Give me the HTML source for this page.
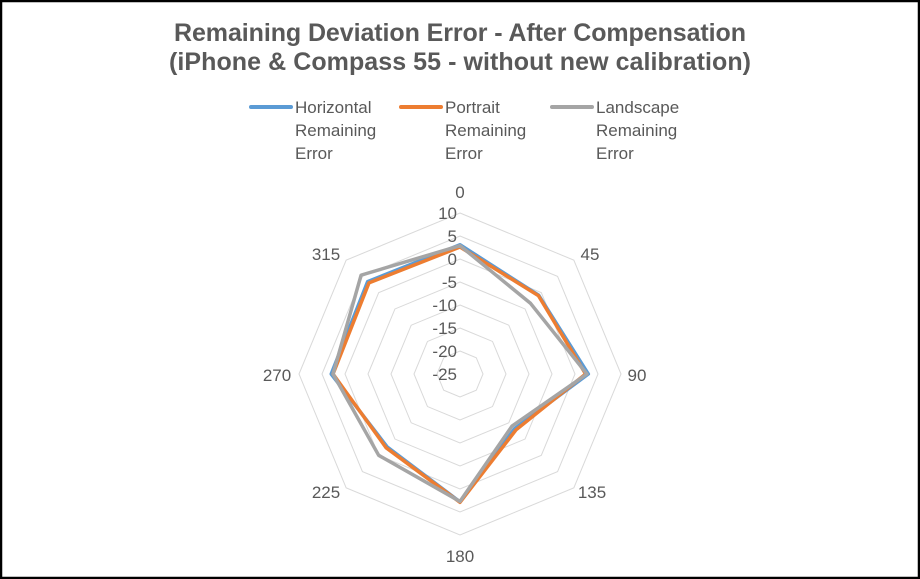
<!DOCTYPE html>
<html><head><style>
html,body{margin:0;padding:0;background:#fff}
svg{display:block}
text{font-family:"Liberation Sans",Arial,sans-serif}
</style></head><body>
<svg id="s" width="920" height="579" viewBox="0 0 920 579" xmlns="http://www.w3.org/2000/svg">
<rect x="1" y="1" width="918" height="577" fill="#fff" stroke="#000" stroke-width="2.5"/>
<text x="460" y="41" text-anchor="middle" font-size="25" font-weight="bold" fill="#595959" textLength="572">Remaining Deviation Error - After Compensation</text>
<text x="460" y="70" text-anchor="middle" font-size="25" font-weight="bold" fill="#595959" textLength="582">(iPhone &amp; Compass 55 - without new calibration)</text>
<g font-size="17" fill="#595959">
<line x1="251" y1="107" x2="291" y2="107" stroke="#5b9bd5" stroke-width="4" stroke-linecap="round"/>
<text x="295" y="113">Horizontal</text><text x="295" y="136">Remaining</text><text x="295" y="159">Error</text>
<line x1="401" y1="107" x2="441" y2="107" stroke="#ed7d31" stroke-width="4" stroke-linecap="round"/>
<text x="445" y="113">Portrait</text><text x="445" y="136">Remaining</text><text x="445" y="159">Error</text>
<line x1="552" y1="107" x2="592" y2="107" stroke="#a5a5a5" stroke-width="4" stroke-linecap="round"/>
<text x="596" y="113">Landscape</text><text x="596" y="136">Remaining</text><text x="596" y="159">Error</text>
</g>
<g id="grid"></g>
<g id="series"></g>
<g id="labels" font-size="17" fill="#595959">
<text x="460" y="198" text-anchor="middle">0</text>
<text x="590" y="260" text-anchor="middle">45</text>
<text x="637" y="381" text-anchor="middle">90</text>
<text x="592" y="498" text-anchor="middle">135</text>
<text x="460" y="562" text-anchor="middle">180</text>
<text x="326" y="498" text-anchor="middle">225</text>
<text x="277" y="381" text-anchor="middle">270</text>
<text x="326" y="260" text-anchor="middle">315</text>
</g>
</svg>
<script>
var cx=460,cy=374,k=4.6,min=-25,ns="http://www.w3.org/2000/svg";
function pt(i,v){var a=i*Math.PI/4,r=(v-min)*k;return [cx+r*Math.sin(a),cy-r*Math.cos(a)];}
function el(t,at,p){var e=document.createElementNS(ns,t);for(var q in at)e.setAttribute(q,at[q]);p.appendChild(e);return e;}
var g=document.getElementById('grid'),L=document.getElementById('labels'),S=document.getElementById('series');
for(var v=-20;v<=10;v+=5){var ps=[];for(var i=0;i<8;i++)ps.push(pt(i,v).join(','));el('polygon',{points:ps.join(' '),fill:'none',stroke:'#d9d9d9','stroke-width':1},g);}
for(var v=-25;v<=10;v+=5){var t=el('text',{x:cx-3,y:cy-(v-min)*k+6,'text-anchor':'end'},L);t.textContent=v;}
var data=[
 ['#5b9bd5',[3.1,-0.8,2.9,-8.2,2.8,-2.6,3.0,3.4]],
 ['#ed7d31',[2.6,-0.9,2.3,-7.8,2.9,-2.3,2.6,3.0]],
 ['#a5a5a5',[2.9,-3.3,2.6,-9.0,2.7,0.0,2.6,5.4]]];
data.forEach(function(d){var ps=[];for(var i=0;i<8;i++)ps.push(pt(i,d[1][i]).join(','));el('polygon',{points:ps.join(' '),fill:'none',stroke:d[0],'stroke-width':3.5,'stroke-linejoin':'round'},S);});
</script>
</body></html>
